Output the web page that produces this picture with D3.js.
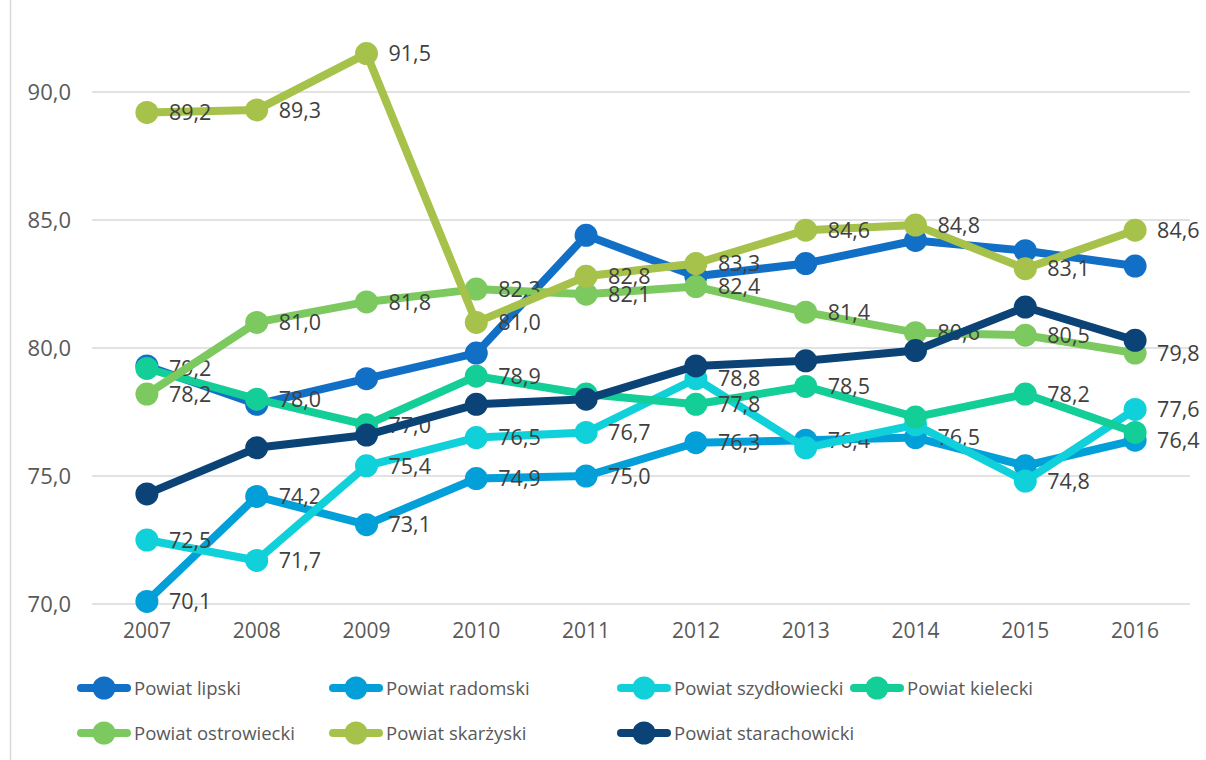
<!DOCTYPE html>
<meta charset="utf-8">
<script src="https://d3js.org/d3.v7.min.js"></script>
<style>
  body { margin: 0; background: #fff; }
</style>
<div id="my_dataviz"></div>
<script>

  // categories and series values
  var years = ["2007", "2008", "2009", "2010", "2011", "2012", "2013", "2014", "2015", "2016"]
  var yTicks = [70, 75, 80, 85, 90]

  var lipski        = [79.3, 77.8, 78.8, 79.8, 84.4, 82.8, 83.3, 84.2, 83.8, 83.2]
  var radomski      = [70.1, 74.2, 73.1, 74.9, 75.0, 76.3, 76.4, 76.5, 75.4, 76.4]
  var szydlowiecki  = [72.5, 71.7, 75.4, 76.5, 76.7, 78.8, 76.1, 77.0, 74.8, 77.6]
  var kielecki      = [79.2, 78.0, 77.0, 78.9, 78.2, 77.8, 78.5, 77.3, 78.2, 76.7]
  var ostrowiecki   = [78.2, 81.0, 81.8, 82.3, 82.1, 82.4, 81.4, 80.6, 80.5, 79.8]
  var skarzyski     = [89.2, 89.3, 91.5, 81.0, 82.8, 83.3, 84.6, 84.8, 83.1, 84.6]
  var starachowicki = [74.3, 76.1, 76.6, 77.8, 78.0, 79.3, 79.5, 79.9, 81.6, 80.3]

  // which points carry a data label in the original
  var lipskiLabels        = [0, 0, 0, 0, 0, 0, 0, 0, 0, 0]
  var radomskiLabels      = [1, 1, 1, 1, 1, 1, 1, 1, 0, 1]
  var szydlowieckiLabels  = [1, 1, 1, 1, 1, 1, 0, 0, 1, 1]
  var kieleckiLabels      = [1, 1, 1, 1, 0, 1, 1, 0, 1, 0]
  var ostrowieckiLabels   = [1, 1, 1, 1, 1, 1, 1, 1, 1, 1]
  var skarzyskiLabels     = [1, 1, 1, 1, 1, 1, 1, 1, 1, 1]
  var starachowickiLabels = [0, 0, 0, 0, 0, 0, 0, 0, 0, 0]

  var names = ["Powiat lipski", "Powiat radomski", "Powiat szydłowiecki", "Powiat kielecki",
               "Powiat ostrowiecki", "Powiat skarżyski", "Powiat starachowicki"]
  var colors = ["#1170c6", "#039fd8", "#10d0da", "#13ce97", "#7cc95f", "#a6c24a", "#0b4377"]

  var series = [
    {name: names[0], values: lipski,        labels: lipskiLabels,        color: colors[0]},
    {name: names[1], values: radomski,      labels: radomskiLabels,      color: colors[1]},
    {name: names[2], values: szydlowiecki,  labels: szydlowieckiLabels,  color: colors[2]},
    {name: names[3], values: kielecki,      labels: kieleckiLabels,      color: colors[3]},
    {name: names[4], values: ostrowiecki,   labels: ostrowieckiLabels,   color: colors[4]},
    {name: names[5], values: skarzyski,     labels: skarzyskiLabels,     color: colors[5]},
    {name: names[6], values: starachowicki, labels: starachowickiLabels, color: colors[6]}
  ]

  var W = 1206, H = 760
  var fmt = function(v) { return v.toFixed(1).replace(".", ",") }

  var svg = d3.select("#my_dataviz")
    .append("svg")
      .attr("width", W)
      .attr("height", H)
      .style("font-family", "'Open Sans', sans-serif")

  // left frame edge
  svg.append("line")
    .attr("x1", 10.5).attr("x2", 10.5)
    .attr("y1", 0).attr("y2", H)
    .attr("stroke", "#d9d9d9").attr("stroke-width", 1.5)

  var x = d3.scaleBand()
    .domain(years)
    .range([92, 1190])

  var y = d3.scaleLinear()
    .domain([70, 90])
    .range([604, 92])

  // gridlines
  svg.append("g")
    .selectAll("line")
    .data(yTicks)
    .enter()
    .append("line")
      .attr("x1", 92).attr("x2", 1190)
      .attr("y1", function(d) { return y(d) })
      .attr("y2", function(d) { return y(d) })
      .attr("stroke", "#d9d9d9")
      .attr("stroke-width", 1.5)

  // Y axis labels
  var yAxis = svg.append("g")
    .attr("transform", "translate(71,0)")
    .call(d3.axisLeft(y).tickValues(yTicks).tickSize(0).tickPadding(0).tickFormat(fmt))
  yAxis.select(".domain").remove()
  yAxis.selectAll("text")
    .style("font-size", "22px")
    .style("font-family", "'Open Sans', sans-serif")
    .attr("fill", "#595959")

  // X axis labels
  var xAxis = svg.append("g")
    .attr("transform", "translate(0,623)")
    .call(d3.axisBottom(x).tickSize(0).tickPadding(0))
  xAxis.select(".domain").remove()
  xAxis.selectAll("text")
    .style("font-size", "21px")
    .style("font-family", "'Open Sans', sans-serif")
    .attr("fill", "#595959")

  var cx = function(d, i) { return x(years[i]) + x.bandwidth() / 2 }

  var line = d3.line()
    .x(function(d, i) { return cx(d, i) })
    .y(function(d) { return y(d) })

  // each series: line, markers, labels
  series.forEach(function(s) {
    var g = svg.append("g")
    g.append("path")
      .datum(s.values)
      .attr("d", line)
      .attr("fill", "none")
      .attr("stroke", s.color)
      .attr("stroke-width", 8)
      .attr("stroke-linejoin", "round")
      .attr("stroke-linecap", "round")

    g.selectAll("circle")
      .data(s.values)
      .enter()
      .append("circle")
        .attr("cx", cx)
        .attr("cy", function(d) { return y(d) })
        .attr("r", 11.5)
        .attr("fill", s.color)

    g.selectAll("text")
      .data(s.values.map(function(v, i) { return {v: v, i: i, show: s.labels[i]} })
                    .filter(function(d) { return d.show }))
      .enter()
      .append("text")
        .attr("x", function(d) { return cx(d.v, d.i) + 22 })
        .attr("y", function(d) { return y(d.v) })
        .attr("dy", "0.36em")
        .attr("fill", "#404040")
        .style("font-size", "21.5px")
        .text(function(d) { return fmt(d.v) })
  })

  // legend
  var legendCols = [77, 329, 617, 850]
  var legendRows = [688, 733]
  var legend = svg.append("g")
    .selectAll("g")
    .data(series)
    .enter()
    .append("g")
      .attr("transform", function(d, i) {
        var col = i < 4 ? i : i - 4
        var row = i < 4 ? 0 : 1
        return "translate(" + legendCols[col] + "," + legendRows[row] + ")"
      })

  legend.append("line")
    .attr("x1", 4).attr("x2", 50)
    .attr("y1", 0).attr("y2", 0)
    .attr("stroke", function(d) { return d.color })
    .attr("stroke-width", 8)
    .attr("stroke-linecap", "round")

  legend.append("circle")
    .attr("cx", 27).attr("cy", 0).attr("r", 11.5)
    .attr("fill", function(d) { return d.color })

  legend.append("text")
    .attr("x", 57)
    .attr("y", 0)
    .attr("dy", "0.36em")
    .attr("fill", "#595959")
    .style("font-size", "18.5px")
    .text(function(d) { return d.name })

</script>
